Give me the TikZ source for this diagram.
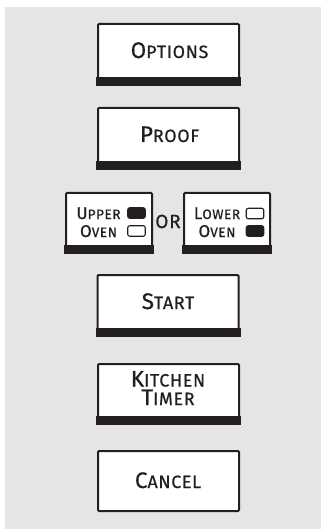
\documentclass[tikz,border=0pt]{standalone}
\usepackage{fontspec}
\setmainfont{Fira Sans}[FakeBold=0.6, LetterSpace=4]
\definecolor{ink}{HTML}{231F20}
\definecolor{panel}{HTML}{E5E5E5}
\newcommand\smc[2]{{\fontsize{22.5}{18.5}\selectfont #1}{\fontsize{17.8}{18.5}\selectfont #2}}
\newcommand\smco[2]{{\fontsize{17}{18}\selectfont #1}{\fontsize{13.6}{18}\selectfont #2}}
\tikzset{
  btn/.style={draw=ink, line width=2pt, fill=white, rounded corners=1pt, inner sep=0pt,
              minimum width=141pt, minimum height=60pt},
  ovenbtn/.style={btn, minimum width=86pt, minimum height=59pt},
  lbl/.style={anchor=base, inner sep=0pt, text=ink, align=center},
  ind/.style={draw=ink, line width=1.1pt, rounded corners=2pt, inner sep=0pt,
              minimum width=17.5pt, minimum height=10.5pt},
  indon/.style={ind, fill=ink},
  indoff/.style={ind, fill=white},
  bar/.style={fill=ink}
}
\begin{document}
\begin{tikzpicture}[x=1pt,y=-1pt]
\useasboundingbox (0,0) rectangle (321,529);
\fill[panel] (5,7) rectangle (321,529);
% Options
\node[btn] (opt) at (168.5,54) {};
\fill[bar] ([xshift=-1pt,yshift=-1pt]opt.south west) rectangle ([xshift=1pt,yshift=8pt]opt.south east);
\node[lbl] (optT) at (169.5,58) {\smc{O}{PTIONS}};
% Proof
\node[btn] (prf) at (168.5,138) {};
\fill[bar] ([xshift=-1pt,yshift=-1pt]prf.south west) rectangle ([xshift=1pt,yshift=8pt]prf.south east);
\node[lbl] (prfT) at (169.5,142) {\smc{P}{ROOF}};
% Upper oven
\node[ovenbtn] (up) at (109,222.5) {};
\fill[bar] ([xshift=-1pt,yshift=-1pt]up.south west) rectangle ([xshift=1pt,yshift=8pt]up.south east);
\node[lbl, font=\fontsize{17}{18}\selectfont] (upT) at (98.5,237) {\smco{U}{PPER}\\\smco{O}{VEN}};
\node[indon] (upS1) at (136.5,213) {};
\node[indoff] (upS2) at (136.5,231) {};
% OR
\node[lbl] (or) at (168,228) {\fontsize{19}{19}\selectfont OR};
% Lower oven
\node[ovenbtn] (lo) at (227,222.5) {};
\fill[bar] ([xshift=-1pt,yshift=-1pt]lo.south west) rectangle ([xshift=1pt,yshift=8pt]lo.south east);
\node[lbl, font=\fontsize{17}{18}\selectfont] (loT) at (217,237) {\smco{L}{OWER}\\\smco{O}{VEN}};
\node[indoff] (loS1) at (255,213.5) {};
\node[indon] (loS2) at (255,231) {};
% Start
\node[btn] (st) at (168,305) {};
\fill[bar] ([xshift=-1pt,yshift=-1pt]st.south west) rectangle ([xshift=1pt,yshift=8pt]st.south east);
\node[lbl] (stT) at (168,309) {\smc{S}{TART}};
% Kitchen timer
\node[btn, minimum height=59pt] (kt) at (168.5,393.5) {};
\fill[bar] ([xshift=-1pt,yshift=-1pt]kt.south west) rectangle ([xshift=1pt,yshift=8pt]kt.south east);
\node[lbl, font=\fontsize{22.5}{18.5}\selectfont] (ktT) at (168,405) {\smc{K}{ITCHEN}\\\smc{T}{IMER}};
% Cancel
\node[btn] (cn) at (168.5,481) {};
\node[lbl] (cnT) at (168,488) {\smc{C}{ANCEL}};
\end{tikzpicture}
\end{document}
